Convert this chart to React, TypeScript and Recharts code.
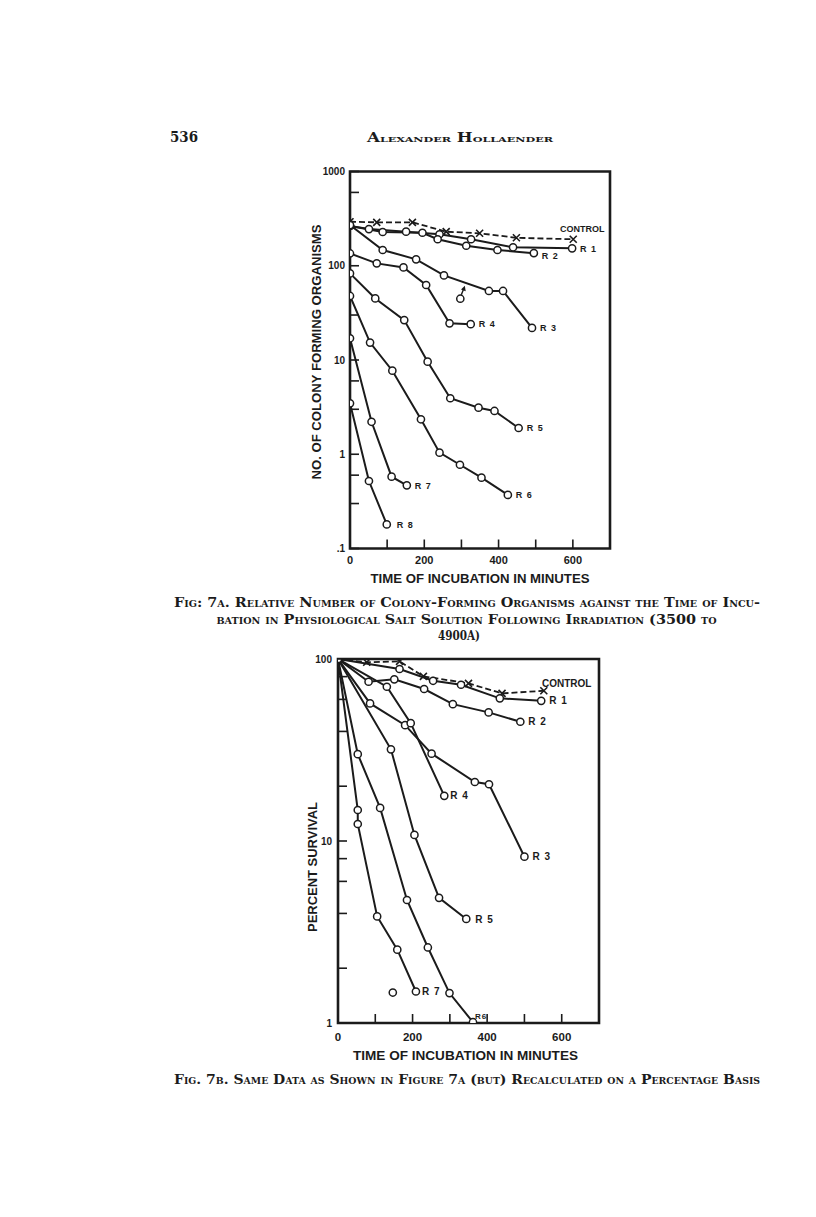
import React from 'react';
import { LineChart, Line, XAxis, YAxis, ReferenceArea } from 'recharts';

const INK = '#1b1b1b';
const SANS = '"Liberation Sans", Arial, sans-serif';
const SERIF = '"DejaVu Serif", "Liberation Serif", serif';

// ---------- Fig. 7A : number of colony-forming organisms vs. minutes ----------
const tControlA = [0, 72, 168, 259, 349, 448, 601];
const vControlA = [293, 289, 289, 230, 221, 198, 191];
const tR1A = [0, 51, 151, 241, 326, 439, 598];
const vR1A = [264, 245, 230, 216, 191, 157, 153];
const tR2A = [0, 88, 195, 236, 313, 397, 495];
const vR2A = [264, 228, 224, 191, 163, 147, 136];
const tR3A = [0, 88, 178, 253, 374, 412, 490];
const vR3A = [270, 147, 117, 79, 54, 54, 21.9];
const tR3xA = [297];
const vR3xA = [44.7];
const tR4A = [0, 72, 144, 205, 268, 325];
const vR4A = [135, 106, 96, 62.5, 24.5, 24];
const tR5A = [0, 68, 146, 209, 270, 346, 389, 454];
const vR5A = [83, 45, 26.5, 9.6, 3.93, 3.12, 2.88, 1.9];
const tR6A = [0, 54, 114, 191, 241, 296, 354, 425];
const vR6A = [47.8, 15.3, 7.7, 2.35, 1.04, 0.774, 0.564, 0.37];
const tR7A = [0, 58, 112, 153];
const vR7A = [17, 2.21, 0.578, 0.468];
const tR8A = [0, 51, 99];
const vR8A = [3.47, 0.52, 0.18];

// ---------- Fig. 7B : percent survival vs. minutes ----------
const tControlB = [0, 77, 165, 229, 350, 440, 552];
const vControlB = [100, 95.9, 97, 80.3, 73.5, 64.7, 66.9];
const tR1B = [0, 165, 255, 330, 434, 545];
const vR1B = [100, 88.1, 75.9, 72.2, 60.8, 58.9];
const tR2B = [0, 82, 151, 231, 308, 404, 489];
const vR2B = [100, 75, 77.3, 68.4, 56.5, 50.9, 45.2];
const tR3B = [0, 86, 180, 251, 367, 405, 500];
const vR3B = [100, 57, 43.3, 30.2, 21.1, 20.5, 8.2];
const tR4B = [0, 131, 195, 285];
const vR4B = [100, 70.4, 44.4, 17.7];
const tR5B = [0, 142, 205, 271, 344];
const vR5B = [100, 31.9, 10.8, 4.87, 3.73];
const tR6B = [0, 53, 113, 185, 241, 299, 362];
const vR6B = [100, 30, 15.2, 4.74, 2.6, 1.46, 1.01];
const tR7B = [0, 53, 53, 105, 159, 209];
const vR7B = [100, 14.8, 12.4, 3.85, 2.53, 1.49];
const tR7xB = [147];
const vR7xB = [1.47];

// ---------- axes ----------
const xTicks = [0, 100, 200, 300, 400, 500, 600, 700];
const xTickLabels = [0, 200, 400, 600];
const yTicksA = [0.1, 0.3, 0.6, 1, 3, 6, 10, 30, 100, 600, 1000];
const yTickLabelsA = [0.1, 1, 10, 100, 1000];
const yTicksB = [1, 2, 4, 6, 8, 10, 20, 40, 60, 80, 100];
const yTickLabelsB = [1, 10, 100];

type Pt = { x: number; y: number };
const pts = (t: number[], v: number[]): Pt[] => t.map((x, i) => ({ x, y: v[i] }));

const hasLabel = (labels: number[], v: number) => labels.some((l) => Math.abs(l - v) < 1e-9);
const fmt = (v: number) => (v < 1 ? String(v).replace(/^0/, '') : String(v));

function makeYTick(L: number, labels: number[], fs: number, gap: number) {
  return (p: any) => {
    const { y, payload } = p;
    const v = payload.value;
    return (
      <g>
        <line x1={L} x2={L + 9} y1={y} y2={y} stroke={INK} strokeWidth={1.6} />
        {hasLabel(labels, v) && (
          <text x={L - gap} y={y + fs * 0.36} textAnchor="end" fontFamily={SANS} fontWeight="bold" fontSize={fs} fill={INK}>
            {fmt(v)}
          </text>
        )}
      </g>
    );
  };
}

function makeXTick(B: number, labels: number[], fs: number, off: number) {
  return (p: any) => {
    const { x, payload } = p;
    const v = payload.value;
    return (
      <g>
        <line x1={x} x2={x} y1={B} y2={B - 9} stroke={INK} strokeWidth={1.6} />
        {hasLabel(labels, v) && (
          <text x={x} y={B + off} textAnchor="middle" fontFamily={SANS} fontWeight="bold" fontSize={fs} fill={INK}>
            {v}
          </text>
        )}
      </g>
    );
  };
}

type Kind = 'o' | 'x' | 'arrow';
function makeDot(kind: Kind, n: number, label?: string, dx = 8, dy = 0, fs = 9) {
  return (p: any) => {
    const { cx, cy, index } = p;
    if (cx == null || cy == null) return <g key={`e${index}`} />;
    const shape =
      kind === 'x' ? (
        <path
          d={`M${cx - 3.5},${cy - 3.5}L${cx + 3.5},${cy + 3.5}M${cx + 3.5},${cy - 3.5}L${cx - 3.5},${cy + 3.5}`}
          stroke={INK}
          strokeWidth={1.6}
          fill="none"
        />
      ) : (
        <circle cx={cx} cy={cy} r={3.6} fill="#fff" stroke={INK} strokeWidth={1.5} />
      );
    const arrow =
      kind === 'arrow' ? (
        <g>
          <line x1={cx + 1} y1={cy - 4} x2={cx + 3.4} y2={cy - 10} stroke={INK} strokeWidth={1.4} />
          <path d={`M${cx + 4.5},${cy - 13}L${cx + 5.4},${cy - 7.4}L${cx + 0.7},${cy - 9.2}Z`} fill={INK} />
        </g>
      ) : null;
    const lab =
      label && index === n - 1 ? (
        <text x={cx + dx} y={cy + dy + fs * 0.36} fontFamily={SANS} fontWeight="bold" fontSize={fs} letterSpacing={1} fill={INK}>
          {label}
        </text>
      ) : null;
    return (
      <g key={`d${index}`}>
        {shape}
        {arrow}
        {lab}
      </g>
    );
  };
}

type Series = {
  id: string;
  t: number[];
  v: number[];
  kind: Kind;
  label?: string;
  dx?: number;
  dy?: number;
  fs?: number;
  dashed?: boolean;
  lx?: number;
  ly?: number;
};

const seriesA: Series[] = [
  { id: 'cA', t: tControlA, v: vControlA, kind: 'x', dashed: true },
  { id: 'r1A', t: tR1A, v: vR1A, kind: 'o', label: 'R 1' },
  { id: 'r2A', t: tR2A, v: vR2A, kind: 'o', label: 'R 2', dy: 2.5 },
  { id: 'r3A', t: tR3A, v: vR3A, kind: 'o', label: 'R 3' },
  { id: 'r3xA', t: tR3xA, v: vR3xA, kind: 'arrow' },
  { id: 'r4A', t: tR4A, v: vR4A, kind: 'o', label: 'R 4' },
  { id: 'r5A', t: tR5A, v: vR5A, kind: 'o', label: 'R 5' },
  { id: 'r6A', t: tR6A, v: vR6A, kind: 'o', label: 'R 6' },
  { id: 'r7A', t: tR7A, v: vR7A, kind: 'o', label: 'R 7' },
  { id: 'r8A', t: tR8A, v: vR8A, kind: 'o', label: 'R 8', dx: 10 },
];

const seriesB: Series[] = [
  { id: 'cB', t: tControlB, v: vControlB, kind: 'x', dashed: true },
  { id: 'r1B', t: tR1B, v: vR1B, kind: 'o', label: 'R 1', fs: 10 },
  { id: 'r2B', t: tR2B, v: vR2B, kind: 'o', label: 'R 2', fs: 10 },
  { id: 'r3B', t: tR3B, v: vR3B, kind: 'o', label: 'R 3', fs: 10 },
  { id: 'r4B', t: tR4B, v: vR4B, kind: 'o', label: 'R 4', fs: 10, dx: 6 },
  { id: 'r5B', t: tR5B, v: vR5B, kind: 'o', label: 'R 5', fs: 10, dx: 9 },
  { id: 'r6B', t: tR6B, v: vR6B, kind: 'o', label: 'R6', fs: 8, dx: 2, dy: -6 },
  { id: 'r7B', t: tR7B, v: vR7B, kind: 'o', label: 'R 7', fs: 10, dx: 6 },
  { id: 'r7xB', t: tR7xB, v: vR7xB, kind: 'o' },
];

function renderSeries(list: Series[]) {
  return list.map((s) => (
    <Line
      key={s.id}
      data={pts(s.t, s.v)}
      dataKey="y"
      type="linear"
      stroke={INK}
      strokeWidth={s.dashed ? 1.8 : 2}
      strokeDasharray={s.dashed ? '6 3' : undefined}
      dot={makeDot(s.kind, s.t.length, s.label, s.dx ?? 8, s.dy ?? 0, s.fs ?? 9)}
      activeDot={false}
      isAnimationActive={false}
    />
  ));
}

function ControlLabel({ x, y, fs }: { x: number; y: number; fs: number }) {
  return (
    <text x={x} y={y} fontFamily={SANS} fontWeight="bold" fontSize={fs} fill={INK}>
      CONTROL
    </text>
  );
}

export default function App() {
  // chart A geometry: plot area left 350..610, top 171.5..548.5 in page coords
  const A = { left: 290, top: 160, w: 340, h: 420, L: 60, B: 388.5 };
  const Bc = { left: 280, top: 650, w: 340, h: 400, L: 58, B: 373 };
  const lastA = seriesA[0];
  const lastB = seriesB[0];

  return (
    <div style={{ position: 'absolute', left: 0, top: 0, width: 816, height: 1217, background: '#fff', overflow: 'hidden' }}>
      {/* Figure 7A */}
      <div style={{ position: 'absolute', left: A.left, top: A.top, width: A.w, height: A.h }}>
        <LineChart width={A.w} height={A.h} margin={{ top: 11.5, right: 20, bottom: 1.5, left: 0 }}>
          <XAxis
            type="number"
            dataKey="x"
            domain={[0, 700]}
            ticks={xTicks}
            interval={0}
            allowDataOverflow
            height={30}
            axisLine={false}
            tickLine={false}
            tick={makeXTick(A.B, xTickLabels, 11, 15.5)}
          />
          <YAxis
            type="number"
            scale="log"
            domain={[0.1, 1000]}
            ticks={yTicksA}
            interval={0}
            allowDataOverflow
            width={60}
            axisLine={false}
            tickLine={false}
            tick={makeYTick(A.L, yTickLabelsA, 10, 5)}
          />
          <ReferenceArea x1={0} x2={700} y1={0.1} y2={1000} fill="none" stroke={INK} strokeWidth={2.6} ifOverflow="visible" />
          {renderSeries(seriesA)}
        </LineChart>
      </div>

      {/* Figure 7B */}
      <div style={{ position: 'absolute', left: Bc.left, top: Bc.top, width: Bc.w, height: Bc.h }}>
        <LineChart width={Bc.w} height={Bc.h} margin={{ top: 9, right: 21, bottom: 2, left: 0 }}>
          <XAxis
            type="number"
            dataKey="x"
            domain={[0, 700]}
            ticks={xTicks}
            interval={0}
            allowDataOverflow
            height={25}
            axisLine={false}
            tickLine={false}
            tick={makeXTick(Bc.B, xTickLabels, 11.5, 18)}
          />
          <YAxis
            type="number"
            scale="log"
            domain={[1, 100]}
            ticks={yTicksB}
            interval={0}
            allowDataOverflow
            width={58}
            axisLine={false}
            tickLine={false}
            tick={makeYTick(Bc.L, yTickLabelsB, 10, 6)}
          />
          <ReferenceArea x1={0} x2={700} y1={1} y2={100} fill="none" stroke={INK} strokeWidth={2.6} ifOverflow="visible" />
          {renderSeries(seriesB)}
        </LineChart>
      </div>

      {/* page text */}
      <svg width={816} height={1217} style={{ position: 'absolute', left: 0, top: 0, pointerEvents: 'none' }}>
        <g fill={INK}>
          <text x={170} y={142} fontFamily={SERIF} fontWeight="bold" fontSize={15} textLength={28} lengthAdjust="spacingAndGlyphs">
            536
          </text>
          <text x={460} y={142} textAnchor="middle" fontFamily={SERIF} fontWeight="bold" fontSize={12} style={{ fontVariant: 'small-caps' }} textLength={186} lengthAdjust="spacingAndGlyphs">
            Alexander Hollaender
          </text>

          {/* Fig 7A titles */}
          <ControlLabel x={560} y={231.5} fs={9} />
          <text transform="translate(321,352) rotate(-90)" textAnchor="middle" fontFamily={SANS} fontWeight="bold" fontSize={12.5} textLength={255} lengthAdjust="spacingAndGlyphs">
            NO. OF COLONY FORMING ORGANISMS
          </text>
          <text x={480} y={582.5} textAnchor="middle" fontFamily={SANS} fontWeight="bold" fontSize={12.5} textLength={219} lengthAdjust="spacingAndGlyphs">
            TIME OF INCUBATION IN MINUTES
          </text>
          <text x={174} y={607} fontFamily={SERIF} fontWeight="bold" fontSize={13.5} style={{ fontVariant: 'small-caps' }} textLength={586} lengthAdjust="spacingAndGlyphs">
            Fig: 7a. Relative Number of Colony-Forming Organisms against the Time of Incu-
          </text>
          <text x={466.5} y={623.5} textAnchor="middle" fontFamily={SERIF} fontWeight="bold" fontSize={13.5} style={{ fontVariant: 'small-caps' }} textLength={500} lengthAdjust="spacingAndGlyphs">
            bation in Physiological Salt Solution Following Irradiation (3500 to
          </text>
          <text x={459} y={639.5} textAnchor="middle" fontFamily={SERIF} fontWeight="bold" fontSize={13.5} textLength={42} lengthAdjust="spacingAndGlyphs">
            4900A)
          </text>

          {/* Fig 7B titles */}
          <ControlLabel x={542} y={686.5} fs={10} />
          <text transform="translate(316.5,867) rotate(-90)" textAnchor="middle" fontFamily={SANS} fontWeight="bold" fontSize={12.5} textLength={130} lengthAdjust="spacingAndGlyphs">
            PERCENT SURVIVAL
          </text>
          <text x={465.5} y={1060} textAnchor="middle" fontFamily={SANS} fontWeight="bold" fontSize={13.5} textLength={225} lengthAdjust="spacingAndGlyphs">
            TIME OF INCUBATION IN MINUTES
          </text>
          <text x={174} y={1084} fontFamily={SERIF} fontWeight="bold" fontSize={13.5} style={{ fontVariant: 'small-caps' }} textLength={586} lengthAdjust="spacingAndGlyphs">
            Fig. 7b. Same Data as Shown in Figure 7a (but) Recalculated on a Percentage Basis
          </text>
        </g>
      </svg>
    </div>
  );
}
